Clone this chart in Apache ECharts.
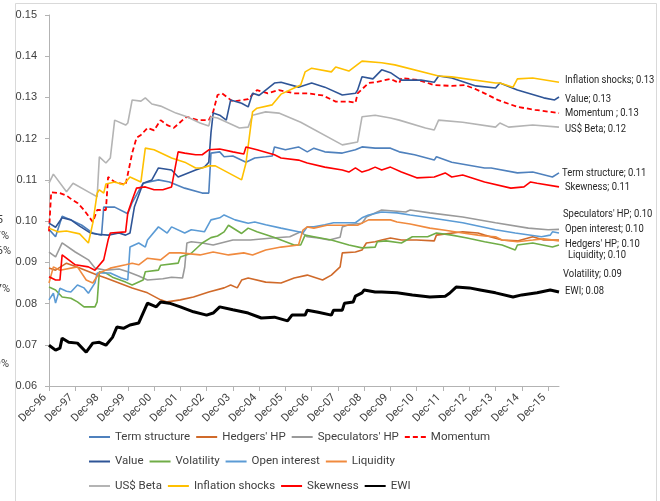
<!DOCTYPE html>
<html>
<head>
<meta charset="utf-8">
<script src="https://cdn.jsdelivr.net/npm/echarts@6/dist/echarts.min.js"></script>
<style>
  html, body { margin: 0; padding: 0; background: #fff; }
  #chart { width: 660px; height: 501px; }
</style>
</head>
<body>
<div id="chart"></div>
<script>
// monthly categories, Dec-96 .. May-16 (index 0 = Dec-96)
var MON = ['Jan', 'Feb', 'Mar', 'Apr', 'May', 'Jun', 'Jul', 'Aug', 'Sep', 'Oct', 'Nov', 'Dec']
var months = []
for (var i = 0; i < 234; i++) {
  var k = 11 + i
  months.push(MON[k % 12] + '-' + String(1996 + Math.floor(k / 12)).slice(2))
}

// series values: [month index, value]
var termStructure = [[0,.098],[3,.0962],[6,.1012],[10,.1003],[15,.099],[20,.0971],[24,.0966],[25,.1034],[30,.1034],[36,.1018],[38,.1045],[43,.1092],[50,.11],[55,.1095],[62,.108],[70,.1068],[73,.1068],[74,.1165],[78,.1168],[80,.1156],[84,.1158],[90,.1143],[94,.1153],[99,.1156],[102,.1158],[103,.118],[108,.1173],[114,.118],[118,.1168],[121,.1177],[126,.1168],[134,.1165],[140,.1173],[143,.118],[149,.1177],[156,.1177],[160,.1168],[167,.1161],[176,.1148],[177,.1156],[184,.1143],[199,.1129],[202,.1129],[214,.1117],[221,.1119],[230,.1107],[233,.1117]]
var hedgersHP = [[0,.0886],[3,.0881],[8,.0898],[14,.0886],[22,.0869],[26,.0862],[38,.0838],[45,.0826],[51,.0809],[54,.0804],[60,.0809],[66,.0816],[73,.0828],[80,.0838],[83,.0845],[86,.0838],[88,.0857],[91,.0862],[99,.0852],[106,.085],[112,.0862],[118,.0869],[125,.0857],[129,.0869],[133,.0889],[134,.0923],[140,.0925],[143,.093],[145,.0947],[149,.095],[152,.0954],[156,.0959],[161,.0954],[168,.0954],[176,.0952],[177,.0966],[189,.0974],[196,.0971],[199,.0966],[207,.0954],[214,.0952],[221,.0962],[226,.0954],[233,.0954]]
var speculatorsHP = [[0,.0925],[3,.0913],[6,.0947],[12,.0925],[18,.0906],[21,.0886],[26,.0881],[32,.0884],[36,.0877],[41,.0867],[45,.0857],[52,.086],[56,.0864],[61,.0862],[62,.0888],[63,.0947],[65,.095],[70,.0947],[75,.0942],[84,.0954],[92,.0954],[102,.0959],[110,.0962],[115,.0974],[118,.0962],[123,.0959],[128,.0954],[133,.0961],[134,.0986],[137,.0991],[143,.0995],[145,.101],[152,.1027],[163,.1022],[165,.1027],[174,.102],[189,.101],[204,.0996],[219,.0983],[228,.0979],[233,.098]]
var momentum = [[0,.0975],[1,.107],[5,.1068],[8,.1062],[10,.1054],[13,.1044],[16,.1027],[20,.0998],[22,.1027],[26,.1027],[27,.1107],[30,.1095],[35,.1088],[38,.1165],[40,.1202],[42,.1209],[45,.1226],[48,.122],[51,.1245],[54,.1233],[57,.1226],[61,.1245],[63,.1253],[68,.1245],[73,.1245],[75,.1265],[77,.1306],[79,.131],[84,.129],[91,.1296],[95,.1318],[100,.131],[105,.1318],[112,.131],[118,.131],[125,.1305],[131,.129],[137,.129],[140,.1287],[141,.131],[146,.1335],[150,.1338],[156,.1345],[160,.1335],[161,.1347],[169,.1342],[176,.133],[184,.1328],[190,.133],[195,.132],[199,.131],[205,.1294],[214,.1277],[222,.127],[233,.1262]]
var value = [[0,.0995],[3,.0985],[6,.1008],[10,.1003],[14,.0988],[19,.0971],[22,.0968],[27,.0966],[32,.0971],[35,.0966],[37,.0971],[39,.1034],[43,.1092],[47,.11],[50,.1129],[56,.1124],[59,.1107],[67,.1124],[71,.1131],[73,.1143],[74,.1214],[75,.1262],[78,.1257],[81,.1245],[83,.1294],[88,.1286],[91,.1277],[93,.131],[96,.1305],[103,.1335],[106,.1337],[114,.1325],[120,.1335],[126,.1325],[134,.1306],[140,.131],[141,.1318],[143,.135],[148,.1345],[152,.1367],[156,.136],[161,.1342],[170,.1342],[176,.1337],[178,.1352],[184,.1347],[195,.1328],[204,.1323],[206,.1335],[214,.1318],[226,.1299],[231,.1294],[233,.1301]]
var volatility = [[0,.084],[3,.0833],[6,.0816],[10,.0813],[13,.0804],[16,.0792],[21,.0792],[22,.0804],[23,.0877],[26,.0874],[29,.0864],[35,.0852],[38,.0845],[43,.0857],[44,.0877],[50,.0881],[51,.0893],[59,.0898],[60,.0913],[65,.0922],[70,.0947],[74,.096],[77,.0964],[80,.0974],[82,.099],[88,.097],[91,.0983],[95,.0974],[103,.096],[112,.0942],[115,.0942],[117,.0966],[121,.0962],[129,.0954],[137,.0942],[143,.0935],[149,.0937],[150,.095],[154,.0952],[161,.0947],[166,.0962],[173,.0962],[177,.0971],[184,.0966],[191,.0959],[199,.095],[207,.0942],[213,.093],[214,.0942],[221,.0947],[230,.0937],[233,.0942]]
var openInterest = [[0,.0809],[2,.0825],[3,.0801],[5,.0837],[8,.083],[10,.0828],[13,.0845],[16,.0838],[18,.0825],[21,.085],[22,.0874],[28,.0874],[33,.0862],[36,.0857],[37,.0937],[41,.0947],[44,.0937],[45,.0954],[50,.0986],[54,.0971],[56,.0986],[62,.0971],[65,.0979],[71,.0974],[74,.1003],[78,.1008],[80,.1015],[85,.1003],[91,.0995],[94,.0998],[99,.0991],[106,.0983],[114,.0974],[116,.0971],[118,.0986],[121,.0986],[126,.0991],[130,.0996],[140,.0996],[143,.1008],[146,.1015],[152,.1022],[159,.102],[165,.1015],[174,.1008],[189,.0996],[204,.0979],[213,.0971],[225,.0962],[229,.0966],[230,.0974],[233,.0971]]
var liquidity = [[0,.085],[2,.0889],[5,.0881],[13,.0889],[17,.0857],[20,.085],[23,.0874],[28,.0886],[35,.0894],[38,.0898],[41,.0894],[45,.091],[51,.0906],[55,.0923],[60,.0923],[69,.0918],[75,.0925],[82,.0918],[89,.0923],[93,.0918],[99,.093],[106,.0937],[114,.0942],[116,.0978],[118,.0986],[121,.0983],[127,.099],[134,.099],[141,.099],[146,.1003],[156,.1003],[159,.0998],[165,.0993],[174,.0983],[181,.0978],[189,.0971],[196,.0966],[199,.0964],[204,.0962],[207,.0954],[214,.095],[221,.0954],[226,.0957],[233,.0952]]
var usBeta = [[0,.1092],[2,.1114],[8,.1071],[11,.1092],[19,.1068],[22,.1059],[23,.1156],[26,.1141],[28,.1153],[30,.1245],[35,.1233],[36,.1238],[38,.1294],[42,.1291],[44,.1299],[47,.1284],[51,.1279],[58,.1262],[63,.1253],[69,.1238],[73,.1231],[74,.1253],[77,.125],[87,.1226],[91,.1228],[93,.1257],[99,.1265],[105,.1262],[115,.124],[134,.1185],[141,.1192],[143,.1253],[149,.1257],[156,.125],[160,.1245],[172,.1226],[176,.1221],[178,.1245],[189,.124],[204,.1228],[206,.1238],[210,.1228],[221,.1233],[233,.1228]]
var inflationShocks = [[0,.0983],[4,.0974],[8,.0976],[14,.0969],[18,.0947],[20,.0995],[22,.1068],[23,.1076],[25,.1068],[26,.109],[30,.1095],[34,.1088],[37,.1107],[42,.1095],[44,.1177],[48,.1173],[56,.1153],[62,.1143],[67,.1129],[70,.1129],[73,.1134],[76,.1134],[88,.11],[90,.1141],[93,.1265],[95,.1274],[102,.1282],[106,.1308],[112,.1323],[115,.133],[117,.1362],[120,.1371],[129,.1362],[131,.1374],[137,.1364],[143,.1388],[152,.1384],[158,.1379],[178,.1352],[184,.135],[204,.1335],[206,.1335],[212,.1325],[214,.1345],[221,.1347],[233,.1337]]
var skewness = [[0,.0865],[3,.0857],[5,.0857],[6,.0918],[12,.0894],[18,.0889],[21,.0881],[25,.0906],[27,.0954],[28,.0971],[35,.0974],[36,.102],[38,.1051],[40,.108],[44,.1083],[48,.1076],[52,.1076],[56,.1083],[59,.1168],[62,.1165],[67,.1161],[70,.1161],[73,.1173],[78,.1175],[84,.1168],[89,.1163],[90,.118],[95,.1173],[103,.1161],[106,.1153],[114,.1148],[118,.1141],[126,.1131],[134,.1124],[137,.1119],[140,.1129],[143,.1119],[146,.1124],[149,.1131],[152,.1124],[156,.1131],[161,.1119],[168,.1105],[176,.1107],[181,.1117],[184,.1107],[189,.1112],[199,.1095],[211,.108],[217,.1083],[220,.1095],[223,.1092],[233,.1083]]
var ewi = [[0,.0699],[3,.0687],[5,.0692],[6,.0716],[9,.0706],[13,.0704],[17,.0682],[20,.0704],[23,.0706],[26,.0699],[29,.0718],[31,.0743],[34,.074],[37,.0748],[41,.0753],[45,.0801],[49,.0792],[51,.0804],[55,.0801],[60,.0792],[66,.078],[72,.0772],[75,.0777],[78,.0792],[84,.0785],[91,.0777],[97,.0765],[103,.0767],[109,.0758],[111,.0772],[117,.0772],[118,.0784],[123,.0779],[129,.0772],[130,.0784],[134,.0784],[135,.0801],[139,.0804],[140,.0818],[143,.0826],[144,.0833],[149,.0828],[152,.0828],[159,.0826],[166,.0821],[174,.0816],[181,.0818],[183,.0825],[186,.084],[192,.0838],[197,.0833],[204,.0826],[212,.0816],[216,.0821],[223,.0826],[229,.0833],[233,.0828]]

var yTicks = { min: 0.06, max: 0.15, step: 0.01 }

var FONT = "Roboto, 'Liberation Sans', sans-serif"
var TXT = '#404040'
var AXIS = '#B3B3B3'

// name, data, color, end label text, end label offset [dx, dy], extra line style
var defs = [
  ['Term structure', termStructure, '#4F81BD', 'Term structure', [3, 0]],
  ["Hedgers' HP", hedgersHP, '#D06A2A', "Hedgers' HP", [6, 4]],
  ["Speculators' HP", speculatorsHP, '#9A9A9A', "Speculators' HP", [4, -15]],
  ['Momentum', momentum, '#FF0000', 'Momentum ', [6, 0], { type: [5, 3], width: 1.8 }],
  ['Value', value, '#2F5597', 'Value', [6, 2]],
  ['Volatility', volatility, '#70AD47', 'Volatility', [4, 29]],
  ['Open interest', openInterest, '#5B9BD5', 'Open interest', [6, -4]],
  ['Liquidity', liquidity, '#F08A3E', 'Liquidity', [9, 14]],
  ['US$ Beta', usBeta, '#B4B4B4', 'US$ Beta', [6, 2]],
  ['Inflation shocks', inflationShocks, '#FFC000', 'Inflation shocks', [6, -2]],
  ['Skewness', skewness, '#FF0000', 'Skewness', [6, 0]],
  ['EWI', ewi, '#000000', 'EWI', [6, -1], { width: 3 }]
]

var series = defs.map(function (d) {
  var ls = Object.assign({ color: d[2], width: 1.6, type: 'solid' }, d[5] || {})
  return {
    name: d[0],
    type: 'line',
    data: d[1],
    symbol: 'none',
    color: d[2],
    lineStyle: ls,
    emphasis: { disabled: true }
  }
})

var everyYear = function (i) { return i % 12 === 0 }

var legends = [0, 1, 2].map(function (r) {
  return {
    data: defs.slice(r * 4, r * 4 + 4).map(function (d) { return d[0] }),
    left: 88,
    top: 431 + r * 24.5,
    padding: 0,
    orient: 'horizontal',
    itemWidth: 21,
    itemHeight: 12,
    itemGap: 5,
    selectedMode: false,
    itemStyle: { opacity: 0, borderWidth: 0 },
    textStyle: { fontFamily: FONT, fontSize: 11.5, color: TXT, width: 93 }
  }
})

var chart = echarts.init(document.getElementById('chart'))
chart.setOption({
  animation: false,
  backgroundColor: '#fff',
  grid: { left: 49, right: 101, top: 15, bottom: 115, containLabel: false, outerBoundsMode: 'none' },
  legend: legends,
  xAxis: {
    type: 'category',
    data: months,
    boundaryGap: false,
    axisLine: { lineStyle: { color: AXIS, width: 1 } },
    axisTick: { show: true, interval: everyYear, length: 5, lineStyle: { color: AXIS } },
    axisLabel: { show: false },   // drawn below as slanted text hung from each tick
    splitLine: { show: false }
  },
  yAxis: {
    type: 'value',
    min: yTicks.min,
    max: yTicks.max,
    interval: yTicks.step,
    axisLine: { show: true, lineStyle: { color: AXIS } },
    axisTick: { show: true, length: 4, lineStyle: { color: AXIS } },
    axisLabel: {
      margin: 12,
      formatter: function (v) { return v.toFixed(2) },
      fontFamily: "'Liberation Sans', sans-serif",
      fontSize: 11,
      color: TXT
    },
    splitLine: { show: false }
  },
  series: series
})

// frame and the clipped bits of a neighbouring chart at the far left edge
var fragTxt = function (t, x, y) {
  return { type: 'text', silent: true, x: x, y: y, style: { text: t, align: 'right', verticalAlign: 'middle', font: '11px ' + FONT, fill: TXT } }
}
var extras = [
  { type: 'rect', silent: true, shape: { x: 15.5, y: 3.5, width: 641, height: 520 }, style: { fill: 'none', stroke: '#D9D9D9', lineWidth: 1 } },
  fragTxt('5', 3, 220), fragTxt('7%', 9, 236), fragTxt('6%', 11, 251), fragTxt('7%', 10, 289), fragTxt('9%', 9, 364)
]

// x tick labels, slanted 45 degrees, ending just below-left of each December tick
var xLabels = []
months.forEach(function (m, idx) {
  if (!everyYear(idx)) return
  var p = chart.convertToPixel({ gridIndex: 0 }, [idx, yTicks.min])
  xLabels.push({
    type: 'text', silent: true,
    x: p[0] - 4, y: p[1] + 10, rotation: Math.PI / 4,
    style: { text: m, align: 'right', verticalAlign: 'middle', font: '11px ' + FONT, fill: TXT }
  })
})

// end labels: placed at each series' last point through the axes, narrowed like the original font
var endLabels = defs.map(function (d) {
  var last = d[1][d[1].length - 1]
  var p = chart.convertToPixel({ gridIndex: 0 }, [last[0], last[1]])
  return {
    type: 'text', silent: true,
    x: p[0] + d[4][0], y: p[1] + d[4][1], scaleX: 0.82,
    style: { text: d[3] + '; ' + last[1].toFixed(2), align: 'left', verticalAlign: 'middle', font: '11.5px ' + FONT, fill: '#262626' }
  }
})

chart.setOption({ graphic: extras.concat(xLabels, endLabels) })
</script>
</body>
</html>
